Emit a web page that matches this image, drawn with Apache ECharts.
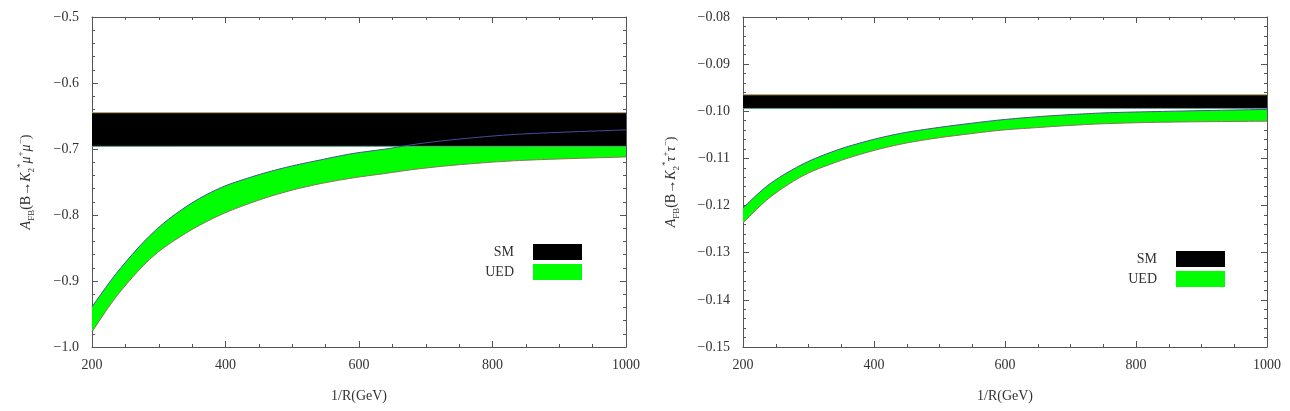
<!DOCTYPE html>
<html>
<head>
<meta charset="utf-8">
<script src="https://cdn.jsdelivr.net/npm/echarts@6/dist/echarts.min.js"></script>
<style>
    html, body { margin: 0; padding: 0; background: #fff; }
    #main { width: 1290px; height: 411px; }
</style>
</head>
<body>
<div id="main"></div>
<script>
    // left panel: B -> K2* mu+ mu-
    var xsLeft = [200, 240, 290, 340, 390, 440, 490, 540, 590, 640, 690, 760, 850, 1000];
    var uedLeftHigh = [-0.939, -0.884, -0.828, -0.788, -0.760, -0.742, -0.728, -0.717, -0.707, -0.700, -0.692, -0.684, -0.677, -0.671];
    var uedLeftLow = [-0.977, -0.919, -0.864, -0.828, -0.801, -0.781, -0.765, -0.753, -0.744, -0.737, -0.730, -0.723, -0.717, -0.712];
    var smLeft = [-0.696, -0.645];

    // right panel: B -> K2* tau+ tau-
    var xsRight = [200, 240, 290, 340, 390, 440, 490, 545, 595, 645, 700, 760, 850, 1000];
    var uedRightHigh = [-0.1205, -0.1155, -0.1113, -0.1084, -0.1063, -0.1047, -0.1036, -0.1026, -0.1018, -0.1012, -0.1007, -0.1003, -0.1000, -0.0996];
    var uedRightLow = [-0.1237, -0.1184, -0.1138, -0.1109, -0.1087, -0.1070, -0.1058, -0.1048, -0.1040, -0.1035, -0.1030, -0.1026, -0.1023, -0.1021];
    var smRight = [-0.0994, -0.0965];

    var xRange = [200, 1000];

    var serif = 'Liberation Serif, DejaVu Serif, serif';
    var axisColor = '#555';

    function pairs(xs, ys) {
        return xs.map(function (x, i) { return [x, ys[i]]; });
    }
    function minus(v, d) {
        return v.toFixed(d).replace('-', '\u2212');
    }

    // smooth pixel curve through the mapped points (catmull-rom -> bezier, sampled)
    function spline(pts) {
        var out = [pts[0]];
        for (var i = 0; i < pts.length - 1; i++) {
            var p0 = pts[i - 1] || pts[i], p1 = pts[i], p2 = pts[i + 1], p3 = pts[i + 2] || pts[i + 1];
            var c1 = [p1[0] + (p2[0] - p0[0]) / 6, p1[1] + (p2[1] - p0[1]) / 6];
            var c2 = [p2[0] - (p3[0] - p1[0]) / 6, p2[1] - (p3[1] - p1[1]) / 6];
            for (var k = 1; k <= 12; k++) {
                var t = k / 12, u = 1 - t;
                out.push([
                    u * u * u * p1[0] + 3 * u * u * t * c1[0] + 3 * u * t * t * c2[0] + t * t * t * p2[0],
                    u * u * u * p1[1] + 3 * u * u * t * c1[1] + 3 * u * t * t * c2[1] + t * t * t * p2[1]
                ]);
            }
        }
        return out;
    }

    function bandSeries(gi, xs, lo, hi, sm) {
        var ax = { xAxisIndex: gi * 2, yAxisIndex: gi * 2 };
        function mapped(api, ys) {
            return xs.map(function (x, i) { return api.coord([x, ys[i]]); });
        }
        return [
            Object.assign({
                name: 'UED', type: 'custom', z: 2, silent: true,
                itemStyle: { color: '#00ff00' },
                data: pairs(xs, lo),
                renderItem: function (params, api) {
                    if (params.dataIndex !== 0) return;
                    var top = spline(mapped(api, hi));
                    var bot = spline(mapped(api, lo));
                    return {
                        type: 'group',
                        children: [
                            { type: 'polygon', shape: { points: top.concat(bot.slice().reverse()) }, style: { fill: '#00ff00' } },
                            { type: 'polyline', shape: { points: bot }, style: { fill: null, stroke: '#8a7358', lineWidth: 1 } }
                        ]
                    };
                }
            }, ax),
            Object.assign({
                name: 'SM', type: 'custom', z: 3, silent: true,
                itemStyle: { color: '#000' },
                data: pairs(xRange, [sm[1], sm[1]]),
                renderItem: function (params, api) {
                    if (params.dataIndex !== 0) return;
                    var a = api.coord([xRange[0], sm[1]]), b = api.coord([xRange[1], sm[1]]);
                    var c = api.coord([xRange[1], sm[0]]), d = api.coord([xRange[0], sm[0]]);
                    return {
                        type: 'group',
                        children: [
                            { type: 'polygon', shape: { points: [a, b, c, d] }, style: { fill: '#000' } },
                            { type: 'polyline', shape: { points: [a, b] }, style: { fill: null, stroke: '#b3a06a', lineWidth: 1 } },
                            { type: 'polyline', shape: { points: [d, c] }, style: { fill: null, stroke: '#5f9f84', lineWidth: 1 } }
                        ]
                    };
                }
            }, ax),
            Object.assign({
                name: 'ued-edge' + gi, type: 'custom', z: 5, silent: true,
                data: pairs(xs, hi),
                renderItem: function (params, api) {
                    if (params.dataIndex !== 0) return;
                    return {
                        type: 'polyline', shape: { points: spline(mapped(api, hi)) },
                        style: { fill: null, stroke: '#4a4a9e', lineWidth: 1 }
                    };
                }
            }, ax)
        ];
    }

    function xAxes(gi) {
        var base = {
            type: 'value', gridIndex: gi, min: 200, max: 1000, interval: 200,
            axisLine: { lineStyle: { color: axisColor } },
            axisTick: { inside: true, length: 6, lineStyle: { color: axisColor } },
            minorTick: { show: true, splitNumber: 4, length: 3, lineStyle: { color: axisColor } },
            splitLine: { show: false }
        };
        return [
            Object.assign({}, base, {
                position: 'bottom',
                name: '1/R(GeV)', nameLocation: 'middle', nameGap: 42,
                nameTextStyle: { fontFamily: serif, fontSize: 14, color: '#333' },
                axisLabel: {
                    margin: 11, fontFamily: serif, fontSize: 14, color: '#333',
                    formatter: function (v) { return String(v); }
                }
            }),
            Object.assign({}, base, { position: 'top', axisLabel: { show: false } })
        ];
    }

    function yAxes(gi, min, max, interval, dec, name, gap) {
        var base = {
            type: 'value', gridIndex: gi, min: min, max: max, interval: interval,
            axisLine: { show: true, lineStyle: { color: axisColor } },
            axisTick: { show: true, inside: true, length: 6, lineStyle: { color: axisColor } },
            minorTick: { show: true, splitNumber: 5, length: 3, lineStyle: { color: axisColor } },
            splitLine: { show: false }
        };
        return [
            Object.assign({}, base, {
                position: 'left',
                name: name, nameLocation: 'middle', nameRotate: 90, nameGap: gap,
                nameTextStyle: {
                    fontFamily: serif, fontSize: 14, color: '#333',
                    rich: {
                        n: { fontFamily: serif, fontSize: 14, color: '#333', lineHeight: 20 },
                        i: { fontFamily: serif, fontSize: 14, color: '#333', fontStyle: 'italic', lineHeight: 20 },
                        sub: { fontFamily: serif, fontSize: 9, color: '#333', lineHeight: 9, verticalAlign: 'bottom' },
                        sup: { fontFamily: serif, fontSize: 9, color: '#333', lineHeight: 9, verticalAlign: 'top' }
                    }
                },
                axisLabel: {
                    margin: 13, fontFamily: serif, fontSize: 14, color: '#333',
                    formatter: function (v) { return minus(v, dec); }
                }
            }),
            Object.assign({}, base, { position: 'right', axisLabel: { show: false } })
        ];
    }

    function legendAt(right, top) {
        return {
            orient: 'vertical', align: 'right', right: right, top: top,
            itemWidth: 49, itemHeight: 16, itemGap: 4, icon: 'rect',
            selectedMode: false,
            data: ['SM', 'UED'],
            itemStyle: { borderWidth: 0 },
            textStyle: { fontFamily: serif, fontSize: 14, color: '#333', padding: [0, 14, 0, 0] }
        };
    }

    var nameLeft = '{i|A}{sub|FB}{n|(B\u2192}{i|K}{sub|2}{sup|*}{i|\u03bc}{sup|+}{i|\u03bc}{sup|\u2212}{n|)}';
    var nameRight = '{i|A}{sub|FB}{n|(B\u2192}{i|K}{sub|2}{sup|*}{i|\u03c4}{sup|+}{i|\u03c4}{sup|\u2212}{n|)}';

    var myChart = echarts.init(document.getElementById('main'));
    myChart.setOption({
        animation: false,
        grid: [
            { left: 92, right: 664, top: 17, bottom: 64 },
            { left: 743, right: 23, top: 17, bottom: 64 }
        ],
        legend: [legendAt(703, 239), legendAt(60, 246)],
        xAxis: xAxes(0).concat(xAxes(1)),
        yAxis: yAxes(0, -1.0, -0.5, 0.1, 1, nameLeft, 56).concat(yAxes(1, -0.15, -0.08, 0.01, 2, nameRight, 62)),
        series: bandSeries(0, xsLeft, uedLeftLow, uedLeftHigh, smLeft)
            .concat(bandSeries(1, xsRight, uedRightLow, uedRightHigh, smRight))
    });
</script>
</body>
</html>
